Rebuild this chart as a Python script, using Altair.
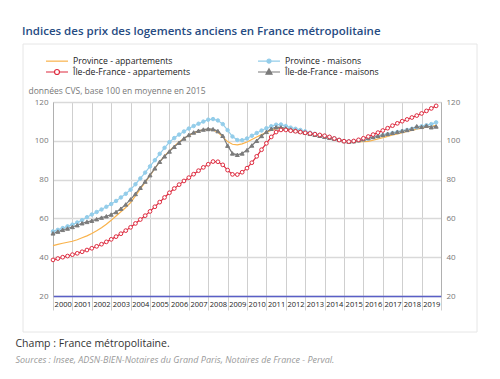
import altair as alt
import pandas as pd

TITLE = "Indices des prix des logements anciens en France métropolitaine"
Y_NOTE = "données CVS, base 100 en moyenne en 2015"
CHAMP = "Champ : France métropolitaine."
SOURCES = "Sources : Insee, ADSN-BIEN-Notaires du Grand Paris, Notaires de France - Perval."

SERIES = ["Province - appartements", "Province - maisons",
          "Île-de-France - appartements", "Île-de-France - maisons"]
COLORS = ["#f9b24a", "#93cdea", "#de2b3f", "#7b7b7b"]
# legend entries are laid out column by column
LEGEND_ORDER = [0, 2, 1, 3]

years = list(range(2000, 2020))
year_edges = list(range(2000, 2021))
y_ticks = [20, 40, 60, 80, 100, 120]

prov_appart = [
    46.0, 46.6, 47.2, 47.7,
    48.2, 49.0, 50.0, 51.0,
    52.2, 53.6, 55.2, 57.0,
    59.0, 61.2, 63.4, 65.6,
    68.2, 71.6, 75.2, 78.6,
    82.0, 85.8, 89.2, 92.2,
    94.8, 97.2, 99.4, 101.2,
    102.8, 104.0, 105.0, 105.6,
    105.9, 105.6, 104.4, 102.0,
    99.6, 98.2, 97.9, 98.4,
    99.4, 100.7, 102.0, 103.2,
    104.3, 105.4, 106.2, 106.5,
    106.3, 105.9, 105.4, 104.9,
    104.4, 103.9, 103.5, 103.1,
    102.7, 102.2, 101.4, 100.6,
    100.0, 99.7, 99.6, 99.6,
    99.5, 99.7, 100.3, 101.0,
    101.6, 102.3, 103.0, 103.6,
    104.2, 104.8, 105.4, 106.0,
    106.5, 107.0, 107.5, 108.0,
]
prov_maisons = [
    53.3, 54.1, 55.0, 55.9,
    56.8, 57.9, 59.1, 60.6,
    62.0, 63.3, 64.6, 66.0,
    67.4, 69.0, 70.8, 72.7,
    74.8, 77.6, 80.6, 83.6,
    86.8, 90.0, 93.3, 96.4,
    99.3, 101.4, 103.2, 104.8,
    106.3, 107.6, 108.8, 109.9,
    110.9, 111.2, 110.5, 108.6,
    105.5, 102.2, 100.4, 100.3,
    101.2, 102.6, 104.0, 105.3,
    106.5, 107.5, 108.3, 108.4,
    107.6, 106.8, 106.2, 105.6,
    104.9, 104.2, 103.6, 103.0,
    102.5, 102.0, 101.3, 100.5,
    99.9, 99.7, 99.8, 100.2,
    100.7, 101.2, 101.8, 102.3,
    102.9, 103.4, 104.0, 104.5,
    105.0, 105.6, 106.2, 106.9,
    107.5, 108.0, 108.6, 109.5,
]
idf_appart = [
    38.6, 39.3, 40.0, 40.6,
    41.3, 42.0, 42.8, 43.7,
    44.6, 45.6, 46.7, 47.9,
    49.2, 50.6, 52.1, 53.7,
    55.4, 57.4, 59.4, 61.4,
    63.6, 66.0, 68.4, 70.8,
    73.2, 75.4, 77.4, 79.3,
    81.0, 82.8, 84.6, 86.3,
    87.9, 89.3, 89.2, 87.6,
    84.9, 82.7, 82.6, 83.8,
    85.9, 88.7, 92.0, 95.4,
    98.7, 102.0, 104.5, 105.6,
    105.6, 105.2, 104.9, 104.5,
    104.1, 103.8, 103.4, 103.0,
    102.6, 102.0, 101.2, 100.4,
    99.8, 99.6, 99.9, 100.5,
    101.3, 102.2, 103.2, 104.2,
    105.3, 106.5, 107.8, 109.0,
    110.1, 111.0, 112.0, 113.0,
    114.1, 115.4, 116.7, 118.0,
]
idf_maisons = [
    52.3, 53.2, 54.1, 54.8,
    55.6, 56.5, 57.5, 58.2,
    58.8, 59.6, 60.4, 61.1,
    62.0, 63.3, 65.0, 67.2,
    69.8, 72.6, 75.8, 79.0,
    82.3, 85.8, 89.2, 92.0,
    94.5, 96.9, 99.0, 101.2,
    103.0, 104.3, 105.2, 105.8,
    106.1, 106.0, 105.0, 102.6,
    97.5, 93.5, 92.8, 93.5,
    95.2, 97.6, 100.0, 102.5,
    104.6, 106.2, 107.0, 106.9,
    106.4, 105.8, 105.3, 104.8,
    104.2, 103.6, 103.1, 102.6,
    102.1, 101.6, 101.1, 100.5,
    99.9, 99.6, 99.8, 100.3,
    100.8, 101.4, 102.0, 102.6,
    103.1, 103.6, 104.1, 104.6,
    105.1, 105.6, 106.2, 107.5,
    107.2, 107.8, 107.0, 107.4,
]

# legend symbols: line + marker, as custom paths in the [-1, 1] unit box
LEG_SHAPES = [
    "M-2.2,0H2.2",
    "M-2.2,0H-0.4M0.4,0H2.2M-0.4,0A0.4,0.4 0 1,1 0.4,0A0.4,0.4 0 1,1 -0.4,0Z",
    "M-2.2,0H-0.5M0.5,0H2.2M-0.5,0A0.5,0.5 0 1,1 0.5,0A0.5,0.5 0 1,1 -0.5,0Z",
    "M-2.2,0H2.2M0,-0.65L0.6,0.45L-0.6,0.45Z",
]
LEG_FILLS = ["transparent", COLORS[1], "#ffffff", COLORS[3]]

quarters = [y + q / 4 for y in years for q in range(4)]
rows = []
for name, vals in zip(SERIES, [prov_appart, prov_maisons, idf_appart, idf_maisons]):
    for t, v in zip(quarters, vals):
        rows.append({"serie": name, "t": t, "v": v})
df = pd.DataFrame(rows)
series_df = pd.DataFrame({"serie": SERIES})
frame_df = pd.DataFrame({"k": [0]})

W, H = 388, 194
FONT = "Open Sans"
HALF_YEAR = W / 20 / 2

xscale = alt.Scale(domain=[2000, 2020], nice=False, zero=False)
yscale = alt.Scale(domain=[20, 120], nice=False, zero=False)

x_axis = alt.Axis(
    values=year_edges, labelExpr="datum.value < 2020 ? datum.value : ''",
    labelOffset=HALF_YEAR, ticks=True, tickSize=14, tickColor="#cfcfcf", tickWidth=1,
    grid=True, gridColor="#cfcfcf", gridWidth=1,
    domainColor="#5a5fc6", domainWidth=1.6,
    labelFontSize=7.5, labelColor="#222222", labelPadding=-10, labelFlush=False,
    labelFont=FONT, labelBaseline="top",
    title=CHAMP, titleAngle=0, titleAlign="left", titleBaseline="alphabetic",
    titleX=-38, titleY=50, titleFontSize=10.5, titleFontWeight="normal",
    titleColor="#333333", titleFont=FONT,
)
left_axis = alt.Axis(
    orient="left", values=y_ticks, ticks=False, grid=True, gridColor="#d9d9d9",
    gridWidth=1.3, domain=True, domainColor="#b0b0b0", labelFontSize=8,
    labelColor="#777777", labelPadding=5, labelFont=FONT,
    title=Y_NOTE, titleAngle=0, titleAlign="left", titleBaseline="alphabetic",
    titleX=-25, titleY=-9, titleFontSize=8.5, titleFontWeight="normal",
    titleColor="#777777", titleFont=FONT,
)
right_axis = alt.Axis(
    orient="right", values=y_ticks, ticks=False, grid=False, domain=True,
    domainColor="#b0b0b0", labelFontSize=8, labelColor="#777777", labelPadding=5,
    labelFont=FONT,
    title=SOURCES, titleAngle=0, titleAlign="left", titleBaseline="alphabetic",
    titleX=-426, titleY=260, titleFontSize=9, titleFontWeight="normal",
    titleFontStyle="italic", titleColor="#9a9a9a", titleFont=FONT,
)

frame = alt.Chart(frame_df).mark_rect(
    fill="transparent", stroke="#e6e6e6", strokeWidth=1
).encode(x=alt.value(-30), x2=alt.value(424), y=alt.value(-58), y2=alt.value(230))


def line(i, yaxis=None):
    return alt.Chart(df).transform_filter(alt.datum.serie == SERIES[i]).mark_line(
        strokeWidth=1.2, color=COLORS[i]
    ).encode(
        x=alt.X("t:Q", scale=xscale, axis=x_axis),
        y=alt.Y("v:Q", scale=yscale, axis=yaxis),
    )


def pts(i, shape, size, fill, yaxis=None):
    return alt.Chart(df).transform_filter(alt.datum.serie == SERIES[i]).mark_point(
        shape=shape, size=size, filled=True, fill=fill, stroke=COLORS[i],
        strokeWidth=1, opacity=1,
    ).encode(
        x=alt.X("t:Q", scale=xscale, axis=x_axis),
        y=alt.Y("v:Q", scale=yscale, axis=yaxis),
    )


leg_domain = [SERIES[i] for i in LEGEND_ORDER]
leg = alt.Legend(
    title=None, orient="none", legendX=-8, legendY=-47, columns=2,
    columnPadding=64, rowPadding=0, symbolSize=100, symbolStrokeWidth=1.2,
    symbolOffset=6, labelOffset=10, labelFont=FONT, labelFontSize=8.7,
    labelColor="#222222",
)
legend_layer = alt.Chart(series_df).mark_point(
    filled=True, opacity=1, strokeWidth=1.2, size=0
).encode(
    shape=alt.Shape("serie:N", scale=alt.Scale(
        domain=leg_domain, range=[LEG_SHAPES[i] for i in LEGEND_ORDER]), legend=leg),
    fill=alt.Fill("serie:N", scale=alt.Scale(
        domain=leg_domain, range=[LEG_FILLS[i] for i in LEGEND_ORDER]), legend=leg),
    stroke=alt.Stroke("serie:N", scale=alt.Scale(
        domain=leg_domain, range=[COLORS[i] for i in LEGEND_ORDER]), legend=leg),
)

chart = alt.layer(
    frame,
    line(0, left_axis), line(1), line(3), line(2),
    pts(1, "circle", 12, COLORS[1]),
    pts(3, "triangle-up", 16, COLORS[3]),
    pts(2, "circle", 14, "#ffffff", right_axis),
    legend_layer,
).resolve_axis(y="independent").properties(
    width=W, height=H,
    title=alt.TitleParams(
        TITLE, anchor="start", frame="group", dx=-31, dy=-2, fontSize=11.5,
        font=FONT, fontWeight=600, color="#264b82",
    ),
    autosize=alt.AutoSizeParams(type="none"),
    padding={"left": 45, "top": 94, "right": 45, "bottom": 70},
).configure_view(stroke=None).configure(font=FONT)

chart.save("out.html", embed_options={"renderer": "svg", "actions": False})
